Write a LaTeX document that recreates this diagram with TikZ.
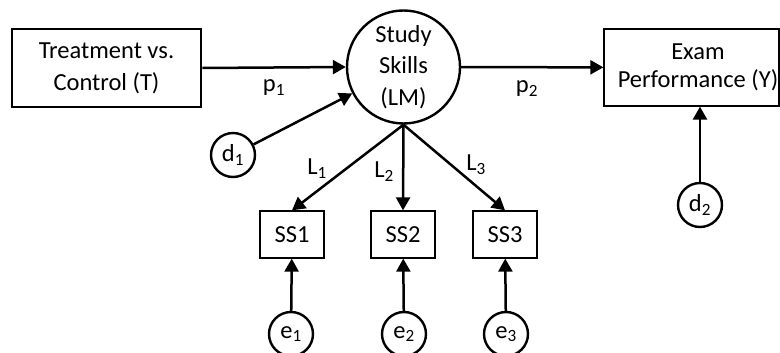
\documentclass[tikz,border=0pt]{standalone}
\usepackage{fontspec}
\setmainfont{Carlito}
\usetikzlibrary{arrows.meta}
\begin{document}
\begin{tikzpicture}[x=1pt,y=-1pt,
  every node/.style={font=\fontsize{24.5}{31.7}\selectfont, text=black},
  thickbox/.style={draw, line width=2.6pt, rectangle, inner sep=0pt},
  thinbox/.style={draw, line width=1.3pt, rectangle, inner sep=0pt},
  bigcirc/.style={draw, line width=2.4pt, circle, inner sep=0pt, minimum size=113pt, align=center},
  errcirc/.style={draw, line width=2.4pt, circle, inner sep=0pt, minimum size=44pt},
  lbl/.style={inner sep=0pt},
  path/.style={line width=2.5pt, -{Triangle[length=13pt,width=14pt]}}
]
\useasboundingbox (0,0) rectangle (780,353);
\clip (0,0) rectangle (780,353);
\node[thickbox, minimum width=189pt, minimum height=78pt, align=center] (T) at (106.5,68) {Treatment vs.\\Control (T)};
\node[bigcirc] (LM) at (403.5,67) {Study\\Skills\\(LM)};
\node[thinbox, minimum width=175pt, minimum height=77pt] (Y) at (691.5,67.5) {};
\node[lbl, align=center, font=\fontsize{24.5}{28.3}\selectfont] (Ytext) at (698,67) {Exam\\Performance (Y)};
\node[errcirc] (d1) at (233,155) {d\textsubscript{1}};
\node[errcirc] (d2) at (700,205) {d\textsubscript{2}};
\node[thinbox, minimum width=64pt, minimum height=47pt] (SS1) at (292,234.5) {SS1};
\node[thinbox, minimum width=64pt, minimum height=47pt] (SS2) at (403,234.5) {SS2};
\node[thinbox, minimum width=64pt, minimum height=47pt] (SS3) at (505,234.5) {SS3};
\node[errcirc] (e1) at (291,334) {e\textsubscript{1}};
\node[errcirc] (e2) at (404,334) {e\textsubscript{2}};
\node[errcirc] (e3) at (506,334) {e\textsubscript{3}};
\node[lbl] (p1) at (274,88) {p\textsubscript{1}};
\node[lbl] (p2) at (527,89) {p\textsubscript{2}};
\node[lbl] (L1) at (317,169) {L\textsubscript{1}};
\node[lbl] (L2) at (384,172) {L\textsubscript{2}};
\node[lbl] (L3) at (476,165) {L\textsubscript{3}};
\draw[path] (T.east) -- (LM.west);
\draw[path] (LM) -- (Y);
\draw[path] (d1) -- (LM);
\draw[path] (LM.south) -- (SS1.north);
\draw[path] (LM.south) -- (SS2.north);
\draw[path] (LM.south) -- (SS3.north);
\draw[path] (e1) -- (SS1);
\draw[path] (e2) -- (SS2);
\draw[path] (e3) -- (SS3);
\draw[path] (d2) -- (d2 |- Y.south);
\end{tikzpicture}
\end{document}
